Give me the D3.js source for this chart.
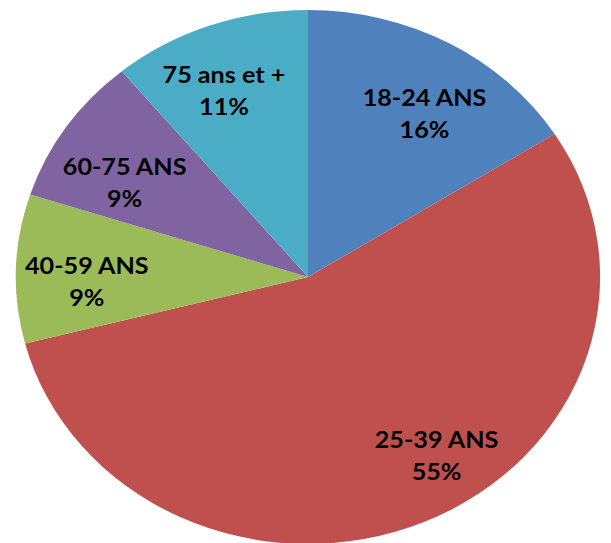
<!DOCTYPE html>
<html>
<head>
<meta charset="utf-8">
<script src="https://cdn.jsdelivr.net/npm/d3@7"></script>
<style>
  html, body { margin: 0; padding: 0; background: #fff; }
</style>
</head>
<body>
<div id="chart"></div>
<script>
// age groups, clockwise from 12 o'clock
var categories = ["18-24 ANS", "25-39 ANS", "40-59 ANS", "60-75 ANS", "75 ans et +"];
var values = [16, 55, 9, 9, 11];
var colors = ["#4F81BD", "#C0504D", "#9BBB59", "#8064A2", "#4BACC6"];

var width = 611;
var height = 543;
var radius = 267;
var stretchX = 1.094;   // the picture is squashed into an ellipse

// best-fit style nudges for the labels (unstretched px)
var labelNudge = [[10, 12], [38, -5], [-2, 11], [-2, 19], [-9, 2]];

var svg = d3.select("#chart")
    .append("svg")
    .attr("width", width)
    .attr("height", height);

var g = svg.append("g")
    .attr("transform", "translate(308,277) scale(" + stretchX + ",1)");

var pie = d3.pie().sort(null).value(function(d) { return d; });
var arcs = pie(values);

var arc = d3.arc().innerRadius(0).outerRadius(radius);
var labelArc = d3.arc().innerRadius(radius * 0.75).outerRadius(radius * 0.75);

g.selectAll("path.slice")
    .data(arcs)
    .enter()
    .append("path")
    .attr("class", "slice")
    .attr("d", arc)
    .attr("fill", function(d, i) { return colors[i]; });

var total = d3.sum(values);

var labels = g.selectAll("text.lbl")
    .data(arcs)
    .enter()
    .append("text")
    .attr("class", "lbl")
    .attr("transform", function(d, i) {
        var c = labelArc.centroid(d);
        return "translate(" + (c[0] + labelNudge[i][0]) + "," + (c[1] + labelNudge[i][1]) + ")";
    })
    .attr("text-anchor", "middle")
    .attr("font-family", "Lato, 'Open Sans', sans-serif")
    .attr("font-weight", "bold")
    .attr("font-size", "23px")
    .attr("fill", "#000");

labels.append("tspan")
    .attr("x", 0)
    .attr("y", -8)
    .text(function(d, i) { return categories[i]; });

labels.append("tspan")
    .attr("x", 0)
    .attr("y", 24)
    .text(function(d) { return Math.round(d.value / total * 100) + "%"; });
</script>
</body>
</html>
